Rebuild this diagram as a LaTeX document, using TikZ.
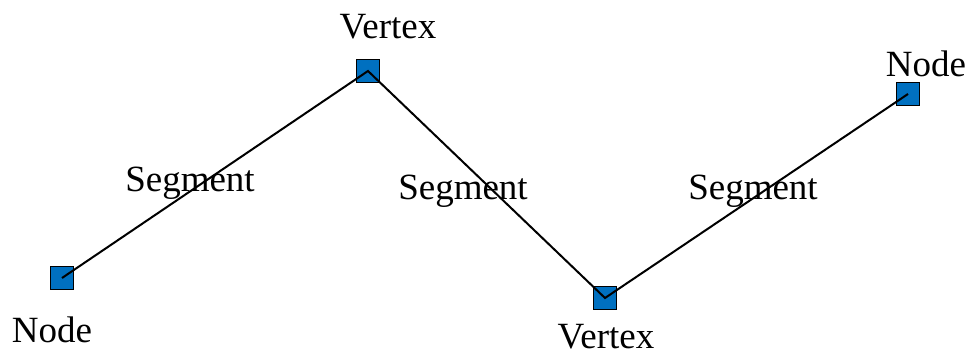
\documentclass[tikz,border=0pt]{standalone}
\usepackage{fontspec}
\setmainfont{Liberation Serif}
\definecolor{pointblue}{RGB}{0,112,192}
\tikzset{
  pointbox/.style={draw=black, line width=1.5pt, fill=pointblue, minimum size=23pt, inner sep=0pt, outer sep=0pt},
  seg/.style={line width=2pt, black},
  lbl/.style={font=\fontsize{37}{40}\selectfont, inner sep=0pt, anchor=base}
}
\begin{document}
\begin{tikzpicture}[x=1pt, y=-1pt]
  \useasboundingbox (0,0) rectangle (969,352);
  % points of the polyline
  \node[pointbox] (n1) at (62,278) {};
  \node[pointbox] (v1) at (368,71) {};
  \node[pointbox] (v2) at (605,298) {};
  \node[pointbox] (n2) at (908,94) {};
  % segments joining the points
  \draw[seg] (n1.center) -- (v1.center) -- (v2.center) -- (n2.center);
  % labels
  \node[lbl] (ln1) at (52,343) {Node};
  \node[lbl] (lv1) at (388,39) {Vertex};
  \node[lbl] (lv2) at (606,348.5) {Vertex};
  \node[lbl] (ln2) at (926,77) {Node};
  \node[lbl] (ls1) at (190,192) {Segment};
  \node[lbl] (ls2) at (463,200) {Segment};
  \node[lbl] (ls3) at (753,200) {Segment};
\end{tikzpicture}
\end{document}
